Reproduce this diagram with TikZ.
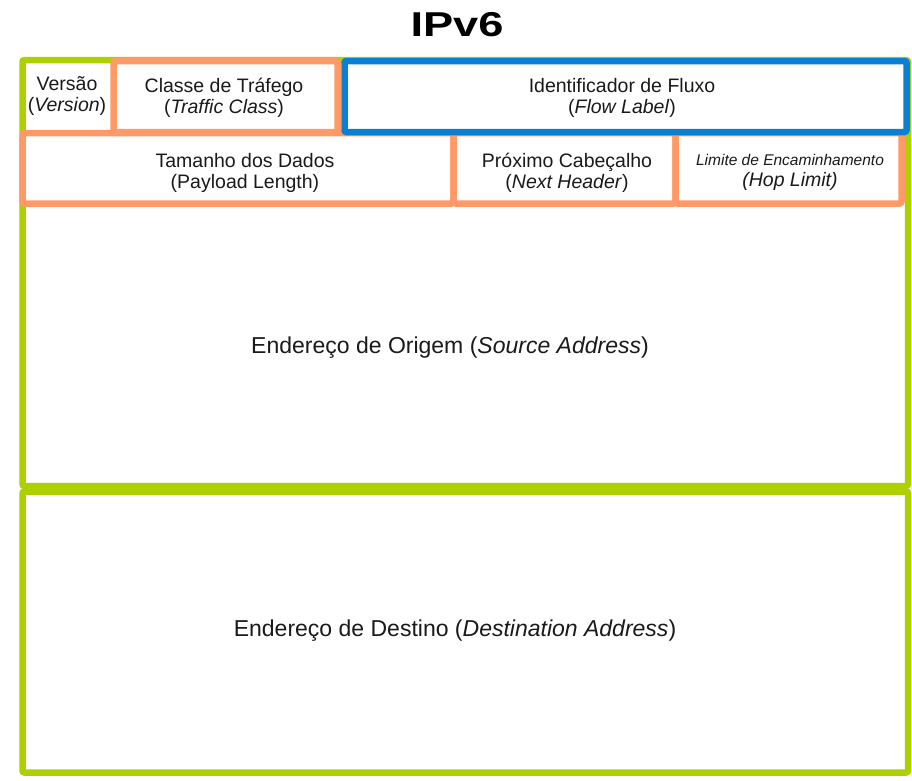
\documentclass[tikz,border=0pt]{standalone}
\usepackage{fontspec}
\setmainfont{Liberation Sans}
\definecolor{lime}{HTML}{AECF00}
\definecolor{salmon}{HTML}{FF9966}
\definecolor{azure}{HTML}{0A80D2}
\definecolor{ink}{HTML}{1A1A1A}
\begin{document}
\begin{tikzpicture}[x=1pt,y=-1pt,
  box/.style={draw, line width=6.5pt, rounded corners=2pt, inner sep=0pt, outer sep=0pt, anchor=north west},
  lbl/.style={text=ink, align=center, font=\fontsize{19.5}{21}\selectfont, inner sep=0pt},
  big/.style={text=ink, font=\fontsize{23}{26}\selectfont, inner sep=0pt}]
\useasboundingbox[fill=white] (0,0) rectangle (912,780);
% title
\node[font=\fontsize{34.5}{40}\selectfont\bfseries, text=black, inner sep=0pt] (title) at (457,25) {\scalebox{1.31}[1]{IPv6}};
% green address blocks
\node[box, draw=lime, minimum width=885.5, minimum height=426] (src) at (22.5,60) {};
\node[box, draw=lime, minimum width=885.5, minimum height=281] (dst) at (22.5,491.5) {};
% orange fields
\node[box, draw=salmon, minimum width=224, minimum height=71] (tc) at (113.5,61) {};
\node[box, draw=salmon, minimum width=431, minimum height=70.5] (pl) at (22.5,133) {};
\node[box, draw=salmon, minimum width=222, minimum height=70.5] (nh) at (453.5,133) {};
\node[box, draw=salmon, minimum width=226, minimum height=70.5] (hl) at (675.5,133) {};
% blue field
\node[box, draw=azure, minimum width=562, minimum height=71] (fl) at (344.5,61) {};
% labels
\node[lbl] (versao) at (67,96) {Versão\\(\textit{Version})};
\node[lbl] (tclbl) at (224,98) {Classe de Tráfego\\(\textit{Traffic Class})};
\node[lbl] (fllbl) at (622,98) {Identificador de Fluxo\\(\textit{Flow Label})};
\node[lbl] (pllbl) at (245,173) {Tamanho dos Dados\\(Payload Length)};
\node[lbl] (nhlbl) at (567,173) {Próximo Cabeçalho\\(\textit{Next Header})};
\node[lbl] (hllbl) at (790,172) {{\fontsize{15.5}{21}\selectfont\itshape Limite de Encaminhamento}\\\textit{(Hop Limit)}};
\node[big] (srclbl) at (450,348) {Endereço de Origem (\textit{Source Address})};
\node[big] (dstlbl) at (455,631) {Endereço de Destino (\textit{Destination Address})};
\end{tikzpicture}
\end{document}
